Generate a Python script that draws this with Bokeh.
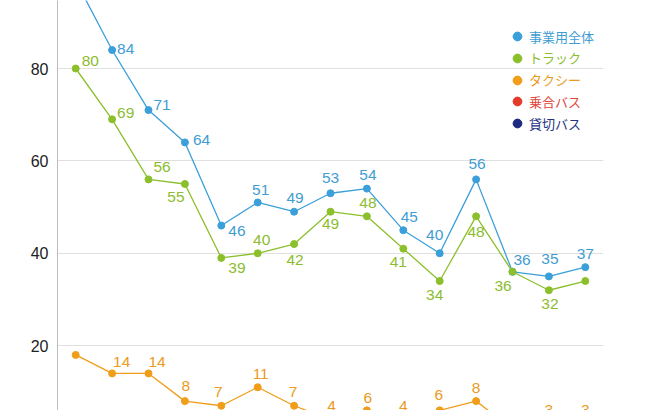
from bokeh.plotting import figure
from bokeh.models import Range1d, FixedTicker, ColumnDataSource, Legend, LegendItem
from bokeh.core.properties import value
from bokeh.embed import file_html
from bokeh.resources import INLINE

# ---- data ----
x_index = list(range(15))
series_names = ["事業用全体", "トラック", "タクシー", "乗合バス", "貸切バス"]
total = [99, 84, 71, 64, 46, 51, 49, 53, 54, 45, 40, 56, 36, 35, 37]
truck = [80, 69, 56, 55, 39, 40, 42, 49, 48, 41, 34, 48, 36, 32, 34]
taxi = [18, 14, 14, 8, 7, 11, 7, 4, 6, 4, 6, 8, 2, 3, 3]
route_bus = [2, 1, 2, 1, 1, 0, 1, 2, 1, 0, 1, 1, 0, 1, 0]
charter_bus = [1, 0, 1, 1, 0, 1, 0, 0, 1, 0, 0, 1, 0, 0, 0]
y_ticks = [20, 40, 60, 80]

# ---- styles ----
colors = ["#3b9fd9", "#8cbf2c", "#f09d1a", "#e5392a", "#1c2a80"]
label_colors = ["#3f9dd4", "#8cbc30", "#eb9a22", "#e0453a", "#24327f"]

# label placement (dx, dy px, align); None = label hidden
A = "center"; L = "left"
place = [
    [None, (5, -1, L), (5, -5, L), (8, -2, L), (7, 5, L), (3, -12, A), (1, -14, A),
     (0, -15, A), (1, -14, A), (6, -13, A), (-5, -18, A), (1, -15, A), (1, -12, L),
     (1, -17, A), (0, -13, A)],
    [(6, -8, L), (5, -6, L), (5, -12, L), (-9, 13, A), (7, 10, L), (4, -13.5, A), (1, 16, A),
     (0, 12, A), (1, -13, A), (-5, 13.5, A), (-5, 13.5, A), (0, 16, A), (-9.5, 14, A),
     (1, 14, A), None],
    [None, (1, -11, L), (0, -11, L), (1, -15.5, A), (-3, -14, A), (3, -13.5, A), (-1, -13.5, A),
     (1, -14, A), (1, -12, A), (0, -14, A), (-1, -15, A), (0, -13, A), None,
     (0, -14, A), (0, -14, A)],
    [None] * 15,
    [None] * 15,
]

all_series = [total, truck, taxi, route_bus, charter_bus]

p = figure(width=657, height=410, output_backend="svg", toolbar_location=None,
           x_range=Range1d(-0.5, 14.5), y_range=Range1d(5.97, 94.72),
           min_border_left=57, min_border_right=54, min_border_top=0, min_border_bottom=0)
p.outline_line_color = None
p.background_fill_color = "white"
p.border_fill_color = "white"
p.xaxis.visible = False
p.xgrid.grid_line_color = None
p.ygrid.grid_line_color = "#e0e0e0"
p.ygrid.grid_line_width = 1
p.yaxis.ticker = FixedTicker(ticks=y_ticks)
p.yaxis.axis_line_color = "#bdbdbd"
p.yaxis.major_tick_line_color = None
p.yaxis.major_tick_out = 0
p.yaxis.major_tick_in = 0
p.yaxis.minor_tick_line_color = None
p.yaxis.minor_tick_out = 0
p.yaxis.major_label_standoff = 9
p.yaxis.major_label_text_font = "Liberation Sans"
p.yaxis.major_label_text_font_size = "16px"
p.yaxis.major_label_text_color = "#222222"

scatter_renderers = []
for vals, col, lcol, pl in zip(all_series, colors, label_colors, place):
    src = ColumnDataSource(dict(x=x_index, y=vals))
    p.line("x", "y", source=src, line_color=col, line_width=1.3)
    r = p.scatter("x", "y", source=src, size=7, fill_color=col, line_color=col)
    scatter_renderers.append(r)
    lx, ly, lt, dx, dy, al = [], [], [], [], [], []
    for i, v in enumerate(vals):
        if pl[i] is None:
            continue
        lx.append(x_index[i]); ly.append(v); lt.append(str(v))
        dx.append(pl[i][0]); dy.append(pl[i][1]); al.append(pl[i][2])
    lsrc = ColumnDataSource(dict(x=lx, y=ly, t=lt, dx=dx, dy=dy, al=al))
    p.text("x", "y", text="t", source=lsrc, x_offset="dx", y_offset="dy",
           text_align="al", text_baseline="middle", text_color=lcol,
           text_font=value("Liberation Sans"), text_font_size="15.5px")

# legend: one per item so each label gets its own colour
row_tops = [25, 46.75, 68.5, 90.25, 112]
for name, r, lcol, top in zip(series_names, scatter_renderers, label_colors, row_tops):
    lg = Legend(items=[LegendItem(label=name, renderers=[r])],
                location=(449, 410 - top - 22),
                glyph_width=22, glyph_height=22, label_standoff=1, label_height=22,
                padding=0, margin=0, spacing=0,
                border_line_color=None, background_fill_alpha=0,
                label_text_font="Noto Sans CJK JP", label_text_font_size="13px",
                label_text_color=lcol)
    p.add_layout(lg)

open("out.html", "w").write(file_html(p, INLINE))
